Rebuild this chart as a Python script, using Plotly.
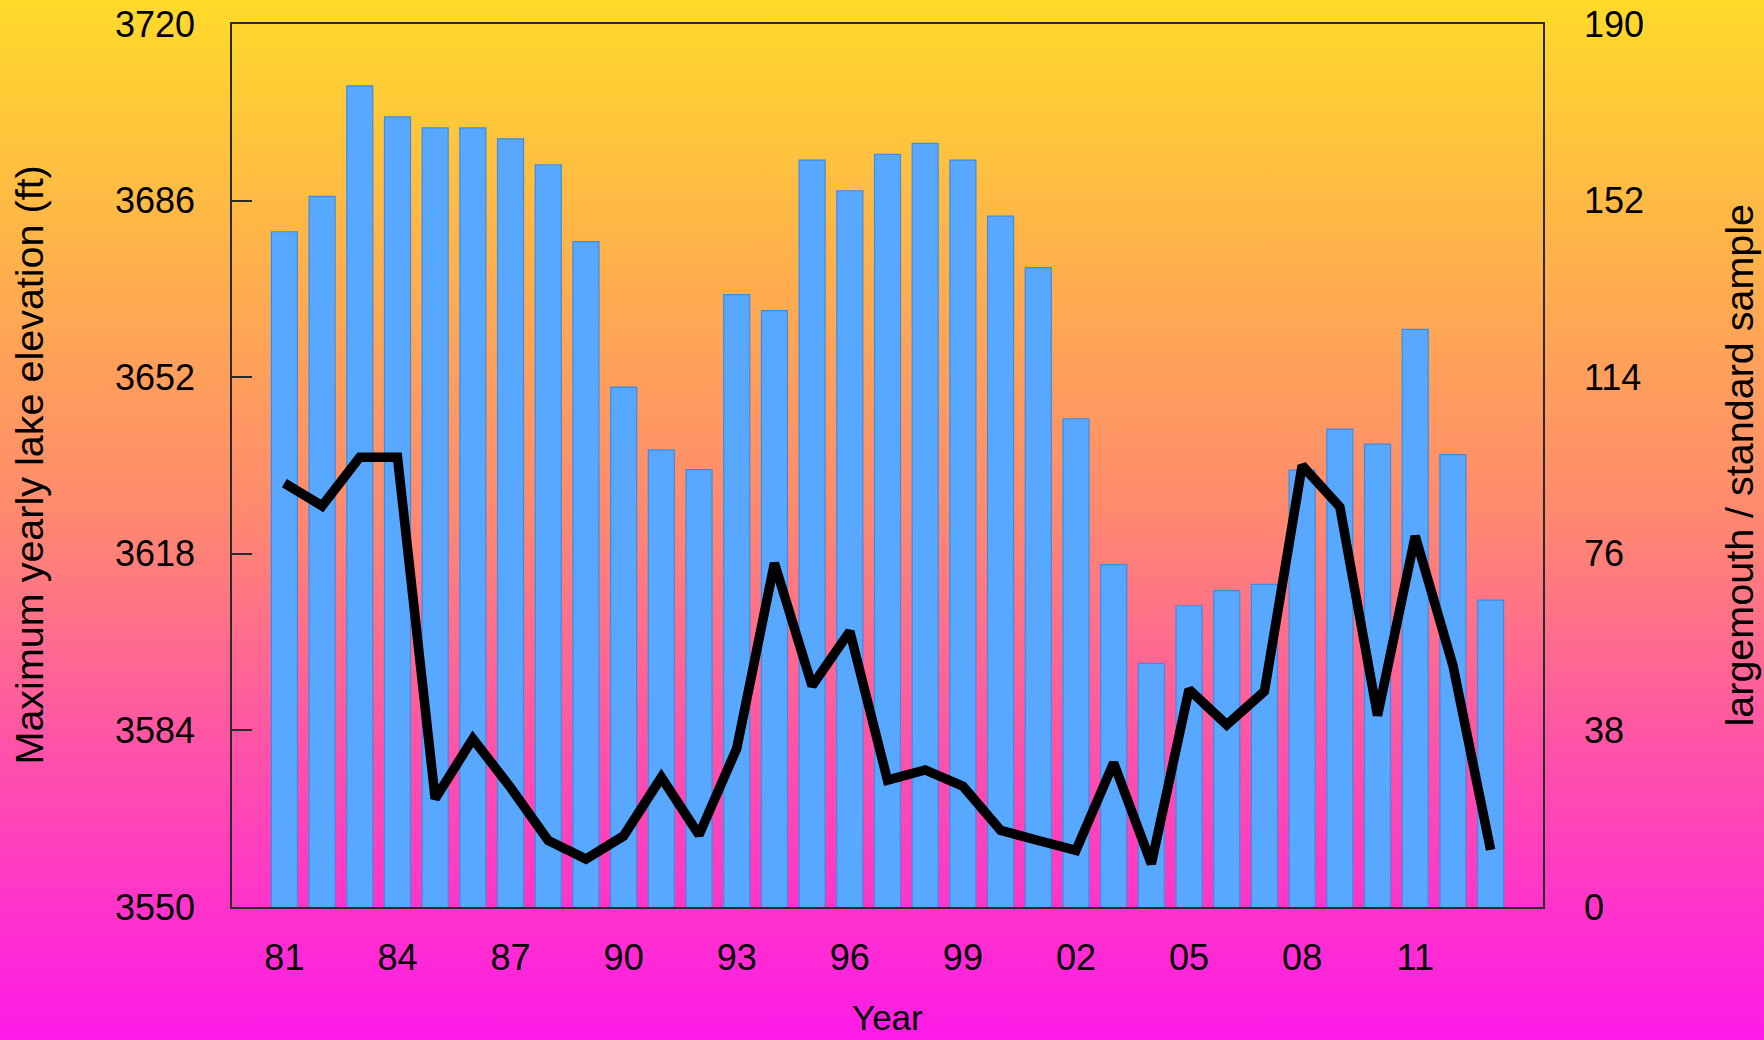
import base64
import plotly.graph_objects as go

# Years 1981-2013, labelled every third year with two-digit tick text
years = list(range(1981, 2014))
tick_years = list(range(1981, 2014, 3))
tick_text = [f"{y % 100:02d}" for y in tick_years]

# Maximum yearly lake elevation (ft), left axis
elevation = [3680.0, 3686.8, 3708.1, 3702.1, 3700.0, 3700.0, 3697.9, 3692.9,
             3678.1, 3650.1, 3638.0, 3634.2, 3667.9, 3664.8, 3693.8, 3687.9,
             3694.9, 3697.0, 3693.8, 3683.0, 3673.1, 3644.0, 3615.9, 3596.9,
             3608.0, 3610.9, 3612.1, 3634.1, 3642.0, 3639.1, 3661.2, 3637.1,
             3609.1]

# Largemouth bass per standard sample, right axis
largemouth = [91.2, 86.3, 96.8, 96.8, 23.3, 36.2, 25.7, 14.3, 10.3, 15.3,
              27.9, 15.5, 34.1, 74.0, 47.6, 59.3, 27.3, 29.5, 26.0, 16.5,
              14.3, 12.2, 31.0, 9.3, 46.8, 39.2, 46.4, 95.0, 86.1, 41.2,
              79.8, 52.0, 12.3]

left_ticks = [3550, 3584, 3618, 3652, 3686, 3720]
right_ticks = [0, 38, 76, 114, 152, 190]

W, H = 1764, 1040
ML, MR, MT, MB = 232, 221, 24, 133
PW, PH = W - ML - MR, H - MT - MB

FONT = "Liberation Sans, Arial, sans-serif"

# Vertical yellow-to-magenta backdrop for the whole page
svg = f"""<svg xmlns='http://www.w3.org/2000/svg' width='{W}' height='{H}' viewBox='0 0 {W} {H}' preserveAspectRatio='none'>
<defs><linearGradient id='g' x1='0' y1='0' x2='0' y2='1'>
<stop offset='0' stop-color='#FFDA2A'/>
<stop offset='0.25' stop-color='#FFB14B'/>
<stop offset='0.5' stop-color='#FF8870'/>
<stop offset='0.72' stop-color='#FF52A8'/>
<stop offset='1' stop-color='#FF1AE8'/>
</linearGradient></defs>
<rect x='0' y='0' width='{W}' height='{H}' fill='url(#g)'/>
</svg>"""
bg_uri = "data:image/svg+xml;base64," + base64.b64encode(svg.encode()).decode()

fig = go.Figure()

fig.add_trace(go.Bar(
    x=years, y=elevation, width=0.69,
    marker=dict(color="#58A8FF", line=dict(color="#3C8CE6", width=1.2)),
    yaxis="y", showlegend=False,
))

fig.add_trace(go.Scatter(
    x=years, y=largemouth, mode="lines",
    line=dict(color="black", width=9.5),
    yaxis="y2", showlegend=False,
))

fig.update_layout(
    width=W, height=H,
    margin=dict(l=ML, r=MR, t=MT, b=MB, autoexpand=False),
    paper_bgcolor="#FF8870",
    plot_bgcolor="rgba(0,0,0,0)",
    font=dict(family=FONT, color="black"),
    images=[dict(
        source=bg_uri, xref="paper", yref="paper",
        x=-ML / PW, y=1 + MT / PH, sizex=W / PW, sizey=H / PH,
        xanchor="left", yanchor="top", sizing="stretch", layer="below",
    )],
    xaxis=dict(
        range=[years[0] - 1.39, years[-1] + 1.39],
        tickvals=tick_years, ticktext=tick_text, automargin=False,
        tickfont=dict(size=36), ticks="", ticklabelstandoff=18,
        showgrid=False, zeroline=False,
        showline=True, mirror=True, linecolor="#2a2a2a", linewidth=1.5,
    ),
    yaxis=dict(
        range=[3550, 3720], tickvals=left_ticks, automargin=False,
        tickfont=dict(size=36), ticks="inside", ticklen=20,
        tickcolor="#2a2a2a", tickwidth=1.5, ticklabelstandoff=28,
        showgrid=False, zeroline=False,
        showline=True, mirror=True, linecolor="#2a2a2a", linewidth=1.5,
    ),
    yaxis2=dict(
        range=[0, 190], tickvals=right_ticks, overlaying="y", side="right",
        automargin=False,
        tickfont=dict(size=36), ticks="", ticklabelstandoff=40,
        showgrid=False, zeroline=False, showline=False,
    ),
    annotations=[
        dict(text="Maximum yearly lake elevation (ft)", xref="paper", yref="paper",
             x=(28 - ML) / PW, y=0.5, textangle=-90, showarrow=False,
             xanchor="center", yanchor="middle", font=dict(size=39.5)),
        dict(text="largemouth / standard sample", xref="paper", yref="paper",
             x=(1738 - ML) / PW, y=0.5, textangle=-90,
             showarrow=False, xanchor="center", yanchor="middle", font=dict(size=39.5)),
        dict(text="Year", xref="paper", yref="paper",
             x=0.5, y=(MT + PH - 1018) / PH, showarrow=False,
             xanchor="center", yanchor="middle", font=dict(size=35)),
    ],
)

fig.write_html("out.html")
